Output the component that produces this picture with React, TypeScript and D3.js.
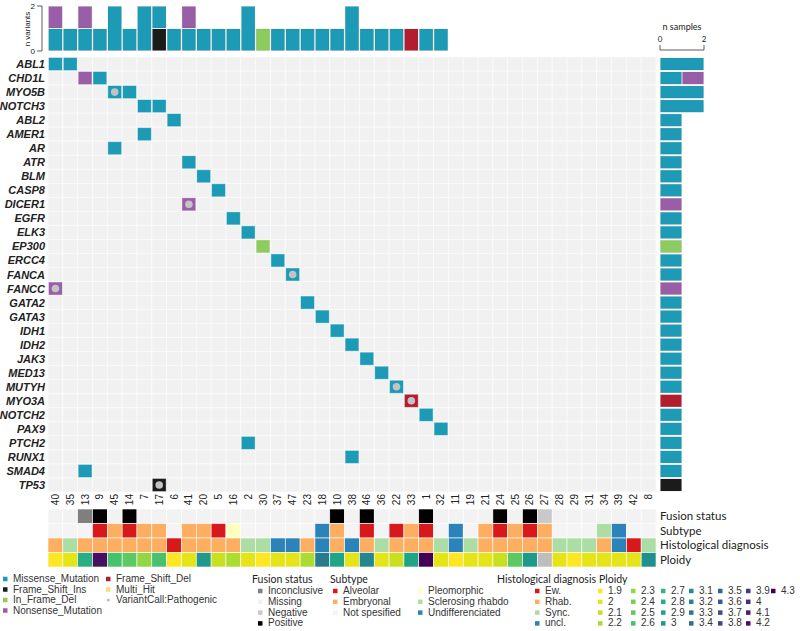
import React from "react";
import * as d3 from "d3";

const samples = ["40","35","13","9","45","14","7","17","6","41","20","5","16","2","30","37","47","23","18","10","38","46","36","22","33","1","32","11","19","21","24","25","26","27","28","29","31","34","39","42","8"];
const genes = ["ABL1","CHD1L","MYO5B","NOTCH3","ABL2","AMER1","AR","ATR","BLM","CASP8","DICER1","EGFR","ELK3","EP300","ERCC4","FANCA","FANCC","GATA2","GATA3","IDH1","IDH2","JAK3","MED13","MUTYH","MYO3A","NOTCH2","PAX9","PTCH2","RUNX1","SMAD4","TP53"];

// [gene, sample, variant type, pathogenic call]
const mutations: [string, string, string, boolean][] = [
  ["ABL1","40","Missense_Mutation",false],
  ["ABL1","35","Missense_Mutation",false],
  ["CHD1L","13","Nonsense_Mutation",false],
  ["CHD1L","9","Missense_Mutation",false],
  ["MYO5B","45","Missense_Mutation",true],
  ["MYO5B","14","Missense_Mutation",false],
  ["NOTCH3","7","Missense_Mutation",false],
  ["NOTCH3","17","Missense_Mutation",false],
  ["ABL2","6","Missense_Mutation",false],
  ["AMER1","7","Missense_Mutation",false],
  ["AR","45","Missense_Mutation",false],
  ["ATR","41","Missense_Mutation",false],
  ["BLM","20","Missense_Mutation",false],
  ["CASP8","5","Missense_Mutation",false],
  ["DICER1","41","Nonsense_Mutation",true],
  ["EGFR","16","Missense_Mutation",false],
  ["ELK3","2","Missense_Mutation",false],
  ["EP300","30","In_Frame_Del",false],
  ["ERCC4","37","Missense_Mutation",false],
  ["FANCA","47","Missense_Mutation",true],
  ["FANCC","40","Nonsense_Mutation",true],
  ["GATA2","23","Missense_Mutation",false],
  ["GATA3","18","Missense_Mutation",false],
  ["IDH1","10","Missense_Mutation",false],
  ["IDH2","38","Missense_Mutation",false],
  ["JAK3","46","Missense_Mutation",false],
  ["MED13","36","Missense_Mutation",false],
  ["MUTYH","22","Missense_Mutation",true],
  ["MYO3A","33","Frame_Shift_Del",true],
  ["NOTCH2","1","Missense_Mutation",false],
  ["PAX9","32","Missense_Mutation",false],
  ["PTCH2","2","Missense_Mutation",false],
  ["RUNX1","38","Missense_Mutation",false],
  ["SMAD4","13","Missense_Mutation",false],
  ["TP53","17","Frame_Shift_Ins",true],
];

const fusionStatus = ["Missing","Missing","Inconclusive","Positive","Missing","Positive","Missing","Missing","Missing","Missing","Missing","Missing","Missing","Missing","Missing","Missing","Missing","Missing","Missing","Positive","Missing","Positive","Missing","Missing","Missing","Positive","Missing","Missing","Missing","Missing","Positive","Missing","Positive","Negative","Missing","Missing","Missing","Missing","Missing","Missing","Missing"];
const subtype = ["Not spesified","Not spesified","Not spesified","Alveolar","Embryonal","Alveolar","Embryonal","Embryonal","Not spesified","Embryonal","Embryonal","Alveolar","Pleomorphic","Not spesified","Not spesified","Not spesified","Not spesified","Not spesified","Undifferenciated","Embryonal","Not spesified","Alveolar","Not spesified","Alveolar","Embryonal","Alveolar","Not spesified","Undifferenciated","Not spesified","Embryonal","Alveolar","Embryonal","Alveolar","Embryonal","Not spesified","Not spesified","Not spesified","Sclerosing rhabdo","Undifferenciated","Not spesified","Not spesified"];
const histology = ["Rhab.","Sync.","Rhab.","Rhab.","Rhab.","Rhab.","Rhab.","Rhab.","Ew.","Rhab.","Rhab.","Rhab.","Rhab.","Sync.","Sync.","uncl.","uncl.","Rhab.","uncl.","Rhab.","uncl.","Rhab.","Sync.","Rhab.","Rhab.","Rhab.","Sync.","uncl.","Sync.","Rhab.","Rhab.","Rhab.","Rhab.","Rhab.","Sync.","Sync.","Sync.","Rhab.","uncl.","Ew.","Sync."];
const ploidy: (number | null)[] = [1.9,2,2.8,4.2,2.6,2.5,2.3,2.6,1.9,2,3,2.1,2.2,2,1.9,2,2,2.2,3.3,2.9,2,3.2,2,2.1,2.9,4.3,2,1.9,2,2,2.1,2.5,3,null,2,1.9,2,2,2,2,3.1];

const variantTypes = ["Frame_Shift_Del","Frame_Shift_Ins","In_Frame_Del","Missense_Mutation","Multi_Hit","Nonsense_Mutation"];
const variantColors: Record<string,string> = {
  Missense_Mutation: "#1d9bb6",
  Frame_Shift_Ins: "#1b1b1b",
  In_Frame_Del: "#8ecb5e",
  Nonsense_Mutation: "#9a5ea8",
  Frame_Shift_Del: "#b31d30",
  Multi_Hit: "#f3e07c",
};
const fusionLevels = ["Inconclusive","Missing","Negative","Positive"];
const fusionColors = ["#7f7f7f","#f2f2f2","#c9c9c9","#000000"];
const subtypeLevels = ["Alveolar","Embryonal","Not spesified","Pleomorphic","Sclerosing rhabdo","Undifferenciated"];
const subtypeColors = ["#d7191c","#fdae61","#f4f4f4","#ffffbf","#abdda4","#2b83ba"];
const histLevels = ["Ew.","Rhab.","Sync.","uncl."];
const histColors = ["#d7191c","#fdae61","#abdda4","#2b83ba"];
const ploidyLevels = d3.range(19, 44).map((v) => v / 10);
const trackNames = ["Fusion status","Subtype","Histological diagnosis","Ploidy"];

export default function App() {
  const W = 800, H = 631;
  const x = d3.scaleBand<string>().domain(samples).range([48, 656]);
  const y = d3.scaleBand<string>().domain(genes).range([57, 492]);
  const cw = x.bandwidth(), rh = y.bandwidth();
  const yTop = d3.scaleLinear().domain([0, 2]).range([51, 6]);
  const xRight = d3.scaleLinear().domain([0, 2]).range([660, 704]);
  const yTrack = d3.scaleBand<string>().domain(trackNames).range([509, 567]);
  const th = yTrack.bandwidth();
  const fusionScale = d3.scaleOrdinal<string,string>().domain(fusionLevels).range(fusionColors);
  const subtypeScale = d3.scaleOrdinal<string,string>().domain(subtypeLevels).range(subtypeColors);
  const histScale = d3.scaleOrdinal<string,string>().domain(histLevels).range(histColors);
  const ploidyScale = d3.scaleSequential(d3.interpolateViridis).domain([4.3, 1.9]);

  const sampleCounts = samples.map((s) => {
    const o: any = { sample: s };
    variantTypes.forEach((t) => (o[t] = mutations.filter((m) => m[1] === s && m[2] === t).length));
    return o;
  });
  const geneCounts = genes.map((g) => {
    const o: any = { gene: g };
    variantTypes.forEach((t) => (o[t] = mutations.filter((m) => m[0] === g && m[2] === t).length));
    return o;
  });
  const stack = d3.stack<any>().keys(variantTypes);
  const sStack = stack(sampleCounts);
  const gStack = stack(geneCounts);

  const sans = "'Liberation Sans', Arial, sans-serif";
  const title = "Lato, 'Open Sans', sans-serif";

  const legendItem = (lx: number, ly: number, color: string, label: string, key: string, sz = 4.5) => (
    <g key={key}>
      <rect x={lx} y={ly - sz / 2 - 3} width={sz} height={sz} fill={color} />
      <text x={lx + 10} y={ly} fontSize={10} fill="#333" fontFamily={sans}>{label}</text>
    </g>
  );

  return (
    <div style={{ position: "fixed", left: 0, top: 0 }}>
      <svg width={W} height={H} style={{ display: "block", background: "#fff" }}>
        {genes.map((g) => samples.map((s) => (
          <rect key={g + s} x={x(s)} y={y(g)} width={cw} height={rh} fill="#f1f1f1" stroke="#fbfbfb" strokeWidth={0.7} />
        )))}
        {mutations.map((m, i) => (
          <g key={"m" + i}>
            <rect x={x(m[1])! + 0.5} y={y(m[0])! + 0.5} width={cw - 1} height={rh - 1}
              fill={variantColors[m[2]]} stroke="rgba(255,255,255,0.5)" strokeWidth={0.8} />
            {m[3] && <circle cx={x(m[1])! + cw / 2} cy={y(m[0])! + rh / 2} r={3.8} fill="#c3c3c3" />}
          </g>
        ))}
        {genes.map((g) => (
          <text key={"gl" + g} x={45} y={y(g)! + rh / 2 + 4} textAnchor="end" fontSize={11}
            fontWeight="bold" fontStyle="italic" fill="#222" fontFamily={sans}>{g}</text>
        ))}
        {samples.map((s) => (
          <text key={"sl" + s} transform={`translate(${x(s)! + cw / 2 + 3.5},494) rotate(-90)`} textAnchor="end"
            fontSize={10} fill="#222" fontFamily={sans}>{s}</text>
        ))}
        {sStack.map((layer) => layer.map((d, i) => d[1] > d[0] ? (
          <rect key={layer.key + i} x={x(samples[i])! + 0.7} y={yTop(d[1]) + 0.5} width={cw - 1.4}
            height={yTop(d[0]) - yTop(d[1]) - 1} fill={variantColors[layer.key]} stroke="rgba(0,0,0,0.15)" strokeWidth={0.5} />
        ) : null))}
        <g stroke="#333" strokeWidth={0.8}>
          <line x1={42} x2={42} y1={yTop(2)} y2={yTop(0)} />
          <line x1={37} x2={42} y1={yTop(2)} y2={yTop(2)} />
          <line x1={37} x2={42} y1={yTop(0)} y2={yTop(0)} />
        </g>
        {[0, 2].map((v) => (
          <text key={"ta" + v} x={35} y={yTop(v) + 3} textAnchor="end" fontSize={8} fill="#222" fontFamily={sans}>{v}</text>
        ))}
        <text transform="translate(30,29) rotate(-90)" textAnchor="middle" fontSize={8} fill="#222" fontFamily={sans}>n variants</text>
        {gStack.map((layer) => layer.map((d, i) => d[1] > d[0] ? (
          <rect key={"r" + layer.key + i} x={xRight(d[0]) + 0.5} y={y(genes[i])! + 1} width={xRight(d[1]) - xRight(d[0]) - 1}
            height={rh - 2} fill={variantColors[layer.key]} stroke="rgba(0,0,0,0.15)" strokeWidth={0.5} />
        ) : null))}
        <g stroke="#333" strokeWidth={0.8}>
          <line x1={xRight(0)} x2={xRight(2)} y1={50} y2={50} />
          <line x1={xRight(0)} x2={xRight(0)} y1={45} y2={50} />
          <line x1={xRight(2)} x2={xRight(2)} y1={45} y2={50} />
        </g>
        {[0, 2].map((v) => (
          <text key={"ra" + v} x={xRight(v)} y={42} textAnchor="middle" fontSize={8} fill="#222" fontFamily={title}>{v}</text>
        ))}
        <text x={(xRight(0) + xRight(2)) / 2} y={30} textAnchor="middle" fontSize={9} fill="#222" fontFamily={title}>n samples</text>
        {samples.map((s, i) => (
          <g key={"tr" + s}>
            <rect x={x(s)} y={yTrack("Fusion status")} width={cw} height={th} fill={fusionScale(fusionStatus[i])} stroke="#fff" strokeWidth={0.6} />
            <rect x={x(s)} y={yTrack("Subtype")} width={cw} height={th} fill={subtypeScale(subtype[i])} stroke="#fff" strokeWidth={0.6} />
            <rect x={x(s)} y={yTrack("Histological diagnosis")} width={cw} height={th} fill={histScale(histology[i])} stroke="#fff" strokeWidth={0.6} />
            <rect x={x(s)} y={yTrack("Ploidy")} width={cw} height={th} fill={ploidy[i] == null ? "#bdbdbd" : ploidyScale(ploidy[i] as number)} stroke="#fff" strokeWidth={0.6} />
          </g>
        ))}
        {trackNames.map((t) => (
          <text key={"tn" + t} x={660} y={yTrack(t)! + th / 2 + 4} fontSize={11.5} fill="#222" fontFamily={title}>{t}</text>
        ))}
        {["Missense_Mutation","Frame_Shift_Ins","In_Frame_Del","Nonsense_Mutation"].map((t, i) =>
          legendItem(3, 582 + i * 10.5, variantColors[t], t, "lv" + t))}
        {["Frame_Shift_Del","Multi_Hit"].map((t, i) => legendItem(106, 582 + i * 10.5, variantColors[t], t, "lv2" + t))}
        <circle cx={108.3} cy={600} r={1.5} fill="#bbb" />
        <text x={116} y={603} fontSize={10} fill="#333" fontFamily={sans}>VariantCall:Pathogenic</text>

        <text x={252} y={583} fontSize={10.5} fill="#222" fontFamily={title}>Fusion status</text>
        {fusionLevels.map((t, i) => legendItem(258, 594 + i * 10.8, fusionColors[i], t, "lf" + t))}

        <text x={330} y={583} fontSize={10.5} fill="#222" fontFamily={title}>Subtype</text>
        {subtypeLevels.map((t, i) => legendItem(i < 3 ? 333 : 418, 594 + (i % 3) * 10.8, subtypeColors[i], t, "ls" + t))}

        <text x={497} y={583} fontSize={10.5} fill="#222" fontFamily={title}>Histological diagnosis</text>
        {histLevels.map((t, i) => legendItem(535, 594 + i * 10.8, histColors[i], t, "lh" + t))}

        <text x={599} y={583} fontSize={10.5} fill="#222" fontFamily={title}>Ploidy</text>
        {ploidyLevels.map((v, i) => {
          const col = Math.floor(i / 4), row = i % 4;
          const colX = [598, 631, 661, 689, 718, 746, 771];
          return legendItem(colX[col], 594 + row * 10.8, ploidyScale(v), String(v), "lp" + i);
        })}
      </svg>
    </div>
  );
}
